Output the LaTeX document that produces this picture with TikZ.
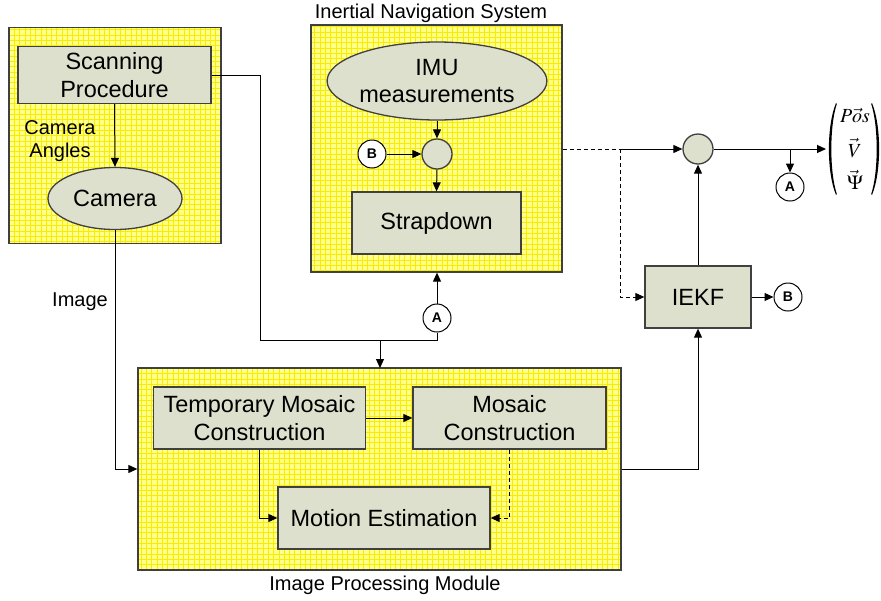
\documentclass[tikz,border=0pt]{standalone}
\usepackage{amsmath}
\usepackage{mathptmx}
\usepackage{fontspec}
\setmainfont{Liberation Sans}
\usetikzlibrary{arrows.meta,shapes.geometric,calc}

\definecolor{boxfill}{RGB}{221,224,204}
\definecolor{boxline}{RGB}{64,64,64}
\definecolor{panelfill}{RGB}{255,255,140}
\definecolor{panelgrid}{RGB}{250,236,0}

\tikzset{
  arr/.style={line width=1pt, -{Triangle[length=9pt,width=8pt]}},
  conn/.style={line width=1pt},
  dashconn/.style={line width=1pt, dash pattern=on 4pt off 3pt},
  panel/.style={draw=boxline, line width=1.3pt, fill=panelfill, inner sep=0pt,
    path picture={\draw[panelgrid, line width=0.6pt, step=5.3pt]
      (path picture bounding box.south west) grid (path picture bounding box.north east);}},
  blockbox/.style={draw=boxline, line width=1.3pt, fill=boxfill, inner sep=0pt,
    align=center, font=\fontsize{23.5}{27.5}\selectfont},
  blockoval/.style={blockbox, ellipse},
  sumnode/.style={circle, draw=boxline, line width=1.3pt, fill=boxfill, minimum size=30pt, inner sep=0pt},
  tagnode/.style={circle, draw=black, line width=1pt, fill=white, minimum size=28pt, inner sep=0pt,
    font=\fontsize{14}{16}\selectfont\bfseries},
  label/.style={align=center, inner sep=0pt, font=\fontsize{20}{23.5}\selectfont},
  entry/.style={inner sep=0pt, font=\fontsize{20}{24}\selectfont},
}

\begin{document}
\begin{tikzpicture}[x=1pt, y=-1pt]
\useasboundingbox (0,0) rectangle (881,600);

% container panels
\node[panel, minimum width=212pt, minimum height=216pt] (cambox) at (115,135.5) {};
\node[panel, minimum width=251pt, minimum height=247pt] (ins) at (436.5,148.5) {};
\node[panel, minimum width=483pt, minimum height=202pt] (ipm) at (379.5,469) {};

% panel titles and free labels
\node[label] (institle) at (431,13) {Inertial Navigation System};
\node[label] (ipmtitle) at (385,585) {Image Processing Module};
\node[label] (anglbl) at (60,141) {Camera\\Angles};
\node[label] (imglbl) at (80,302) {Image};

% camera block
\node[blockbox, minimum width=193pt, minimum height=57pt] (scan) at (114.5,75) {Scanning\\Procedure};
\node[blockoval, minimum width=134pt, minimum height=62pt] (cam) at (115,198.5) {Camera};

% inertial navigation block
\node[blockoval, minimum width=208pt, minimum height=78pt] (imu) at (437,81) {IMU\\measurements};
\node[sumnode] (sum1) at (437,154) {};
\node[tagnode] (b1) at (372,154) {B};
\node[blockbox, minimum width=169pt, minimum height=62pt] (strap) at (436.5,223) {Strapdown};

% fusion and filter
\node[sumnode] (sum2) at (698,149) {};
\node[tagnode] (a1) at (790,187) {A};
\node[blockbox, minimum width=106pt, minimum height=62pt] (iekf) at (698,297) {IEKF};
\node[tagnode] (b2) at (788,297) {B};
\node[tagnode] (a2) at (437,318) {A};

% output state vector: entries and hand-drawn parentheses
\node[entry] (pos) at (855,115) {$P\vec{o}s$};
\node[entry] (vel) at (855,148) {$\vec{V}$};
\node[entry] (att) at (855,180) {$\vec{\Psi}$};
\fill (836,103) .. controls (826.5,126) and (826.5,172) .. (836,195)
  -- (836.8,194) .. controls (829.5,172) and (829.5,126) .. (836.8,104) -- cycle;
\fill (872,103) .. controls (881.5,126) and (881.5,172) .. (872,195)
  -- (871.2,194) .. controls (878.5,172) and (878.5,126) .. (871.2,104) -- cycle;
\coordinate (vecin) at (826,149);

% image processing blocks
\node[blockbox, minimum width=212pt, minimum height=62pt] (tmc) at (259.5,418) {Temporary Mosaic\\Construction};
\node[blockbox, minimum width=193pt, minimum height=62pt] (mc) at (509.5,418) {Mosaic\\Construction};
\node[blockbox, minimum width=212pt, minimum height=62pt] (me) at (384,518) {Motion Estimation};

% routing points
\coordinate (bend) at (260,340);
\coordinate (junc) at (380,340);
\coordinate (ipmtop) at (380,368);
\coordinate (split) at (620,149);
\coordinate (tap) at (790,149);

% camera connections
\draw[arr] (scan.south) -- (cam.north);
\draw[arr] (cam.south) |- (ipm.west);
\draw[arr] (scan.east) -| (bend) -- (junc) -- (ipmtop);
\draw[conn] (a2.south) |- (junc);
\draw[arr] (a2.north) -- (ins.south -| a2);

% inertial navigation connections
\draw[arr] (imu.south) -- (sum1.north);
\draw[arr] (b1.east) -- (sum1.west);
\draw[arr] (sum1.south) -- (strap.north);

% fusion connections
\draw[dashconn] (ins.east |- split) -- (split);
\draw[arr] (split) -- (sum2.west);
\draw[dashconn, -{Triangle[length=9pt,width=8pt]}] (split) |- (iekf.west);
\draw[arr] (sum2.east) -- (vecin);
\draw[arr] (tap) -- (a1.north);
\draw[arr] (iekf.north) -- (sum2.south);
\draw[arr] (iekf.east) -- (b2.west);
\draw[arr] (ipm.east) -| (iekf.south);

% image processing connections
\draw[arr] (tmc.east) -- (mc.west);
\draw[arr] (tmc.south) |- (me.west);
\draw[dashconn, -{Triangle[length=9pt,width=8pt]}] (mc.south) |- (me.east);
\end{tikzpicture}
\end{document}
